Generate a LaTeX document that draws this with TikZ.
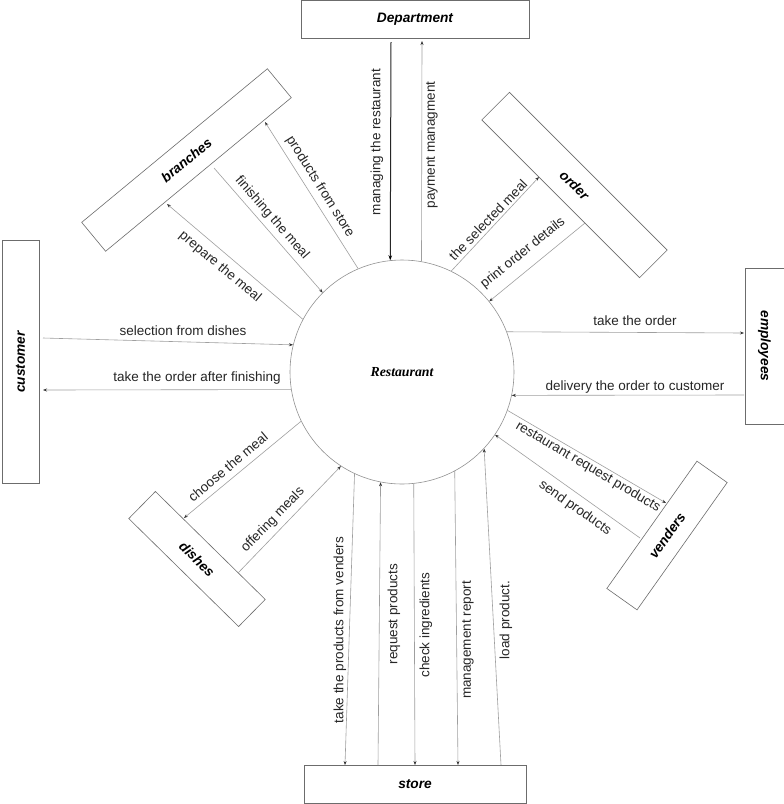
\documentclass[tikz,border=0pt]{standalone}
\usepackage{fontspec}
\setmainfont{Liberation Sans}
\newfontfamily\serifbi{Liberation Serif}
\usetikzlibrary{arrows.meta}
\begin{document}
\begin{tikzpicture}[x=1pt,y=-1pt,
  box/.style={draw=gray!85!black, line width=0.6pt, inner sep=0pt,
    font=\fontsize{13.7}{15}\selectfont\bfseries\itshape},
  flow/.style={draw=gray!75, line width=0.6pt,
    -{Stealth[length=4pt,width=3pt,color=black!80]}},
  mainflow/.style={draw=black!85, line width=1pt,
    -{Stealth[length=5pt,width=3.5pt,color=black]}},
  lab/.style={font=\fontsize{13.5}{15}\selectfont, text=black!85, inner sep=0pt}]
\useasboundingbox (0,0) rectangle (784,804);
\fill[white] (0,0) rectangle (784,804);

% central process
\node[circle, draw=gray!85, line width=0.6pt, minimum size=224pt, inner sep=0pt,
  font=\serifbi\fontsize{13.8}{15}\selectfont\bfseries\itshape] (R) at (402,372) {Restaurant};

% entities
\node[box, minimum width=228pt, minimum height=38pt] (dept) at (415,19) {Department};
\node[box, minimum width=222pt, minimum height=38pt] (store) at (415,784) {store};
\node[box, rotate=90, minimum width=243pt, minimum height=37pt] (cust) at (20.5,362) {customer};
\node[box, rotate=-90, minimum width=156pt, minimum height=39pt] (emp) at (764.5,346) {employees};
\node[box, rotate=39.6, minimum width=241pt, minimum height=37.5pt] (br) at (186.5,160) {branches};
\node[box, rotate=-45, minimum width=223pt, minimum height=39pt] (ord) at (574.5,185) {order};
\node[box, rotate=-44.5, minimum width=154pt, minimum height=38pt] (dish) at (197,559) {dishes};
\node[box, rotate=54.7, minimum width=156pt, minimum height=37pt] (vend) at (667,535.5) {venders};

% connector ends at the entities
\coordinate (dA) at (391,42);
\coordinate (dB) at (422,41);
\coordinate (bA) at (167,204);
\coordinate (bB) at (214,168);
\coordinate (bC) at (265,122);
\coordinate (oA) at (539,177);
\coordinate (oB) at (585,223);
\coordinate (cA) at (43,338);
\coordinate (cB) at (43,390);
\coordinate (eA) at (744,333);
\coordinate (eB) at (744,395);
\coordinate (diA) at (184,518);
\coordinate (diB) at (238,573);
\coordinate (vA) at (666,503);
\coordinate (vB) at (640,538);
\coordinate (sA) at (345,765);
\coordinate (sB) at (378,765);
\coordinate (sC) at (415,765);
\coordinate (sD) at (458,765);
\coordinate (sE) at (501,765);

% connectors
\draw[mainflow] (dA) -- (R.96);
\draw[flow] (R.80) -- (dB);
\draw[flow] (R.152) -- (bA);
\draw[flow] (bB) -- (R.135);
\draw[flow] (R.113) -- (bC);
\draw[flow] (R.64) -- (oA);
\draw[flow] (oB) -- (R.39);
\draw[flow] (cA) -- (R.166);
\draw[flow] (R.189) -- (cB);
\draw[flow] (R.21) -- (eA);
\draw[flow] (eB) -- (R.-12);
\draw[flow] (R.-154) -- (diA);
\draw[flow] (diB) -- (R.-123);
\draw[flow] (R.-20) -- (vA);
\draw[flow] (vB) -- (R.-34);
\draw[flow] (R.-115) -- (sA);
\draw[flow] (sB) -- (R.-101);
\draw[flow] (R.-84) -- (sC);
\draw[flow] (R.-62) -- (sD);
\draw[flow] (sE) -- (R.-43);

% labels
\node[lab, rotate=90] (l1) at (377,142) {managing the restaurant};
\node[lab, rotate=90] (l2) at (432,145) {payment managment};
\node[lab, rotate=-40] (l3) at (220,267) {prepare the meal};
\node[lab, rotate=-49] (l4) at (272,218) {finishing the meal};
\node[lab, rotate=-58] (l5) at (320,187) {products from store};
\node[lab, rotate=46] (l6) at (488,220) {the selected meal};
\node[lab, rotate=39] (l7) at (523,253) {print order details};
\node[lab] (l8) at (183,331) {selection from dishes};
\node[lab] (l9) at (197,378) {take the order after finishing};
\node[lab] (l10) at (635,321) {take the order};
\node[lab] (l11) at (635,387) {delivery the order to customer};
\node[lab, rotate=40] (l12) at (228,467) {choose the meal};
\node[lab, rotate=46] (l13) at (273,520) {offering meals};
\node[lab, rotate=-30.5] (l14) at (588,467) {restaurant request products};
\node[lab, rotate=-35] (l15) at (575,508) {send products};
\node[lab, rotate=90] (l16) at (340,630) {take the products from venders};
\node[lab, rotate=90] (l17) at (394,614) {request products};
\node[lab, rotate=90] (l18) at (426,625) {check ingredients};
\node[lab, rotate=90] (l19) at (468,640) {management report};
\node[lab, rotate=90] (l20) at (506,620) {load product.};
\end{tikzpicture}
\end{document}
